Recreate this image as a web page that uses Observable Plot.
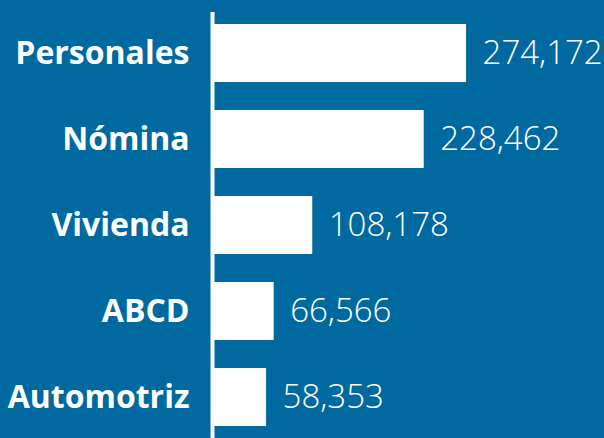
<!DOCTYPE html>
<html>
<head>
<meta charset="utf-8">
<script src="https://cdn.jsdelivr.net/npm/d3@7"></script>
<script src="https://cdn.jsdelivr.net/npm/@observablehq/plot@0.6"></script>
<style>
  html, body { margin: 0; padding: 0; background: #0069A0; }
  #chart { width: 604px; height: 438px; }
</style>
</head>
<body>
<div id="chart"></div>
<script>
// Loan portfolio by product type
const categories = ["Personales", "Nómina", "Vivienda", "ABCD", "Automotriz"];
const values = [274172, 228462, 108178, 66566, 58353];

const data = categories.map((c, i) => ({category: c, value: values[i]}));
const fmt = d3.format(",");

const chart = Plot.plot({
  width: 604,
  height: 438,
  marginLeft: 212,
  marginRight: 114,
  marginTop: 12,
  marginBottom: 0,
  style: {background: "#0069A0", color: "white", fontFamily: "'Open Sans', sans-serif"},
  x: {domain: [0, 300000], axis: null},
  y: {domain: categories, axis: null, paddingInner: 0.325, paddingOuter: 0.122},
  marks: [
    Plot.barX(data, {y: "category", x: "value", fill: "white"}),
    Plot.ruleX([0], {stroke: "white", strokeWidth: 4}),
    Plot.text(data, {
      y: "category", x: 0, text: "category",
      textAnchor: "end", dx: -23, fill: "white",
      fontSize: 32, fontWeight: "bold"
    }),
    Plot.text(data, {
      y: "category", x: "value", text: d => fmt(d.value),
      textAnchor: "start", dx: 16, fill: "white",
      fontSize: 33, fontWeight: 300
    })
  ]
});

document.getElementById("chart").appendChild(chart);
</script>
</body>
</html>
